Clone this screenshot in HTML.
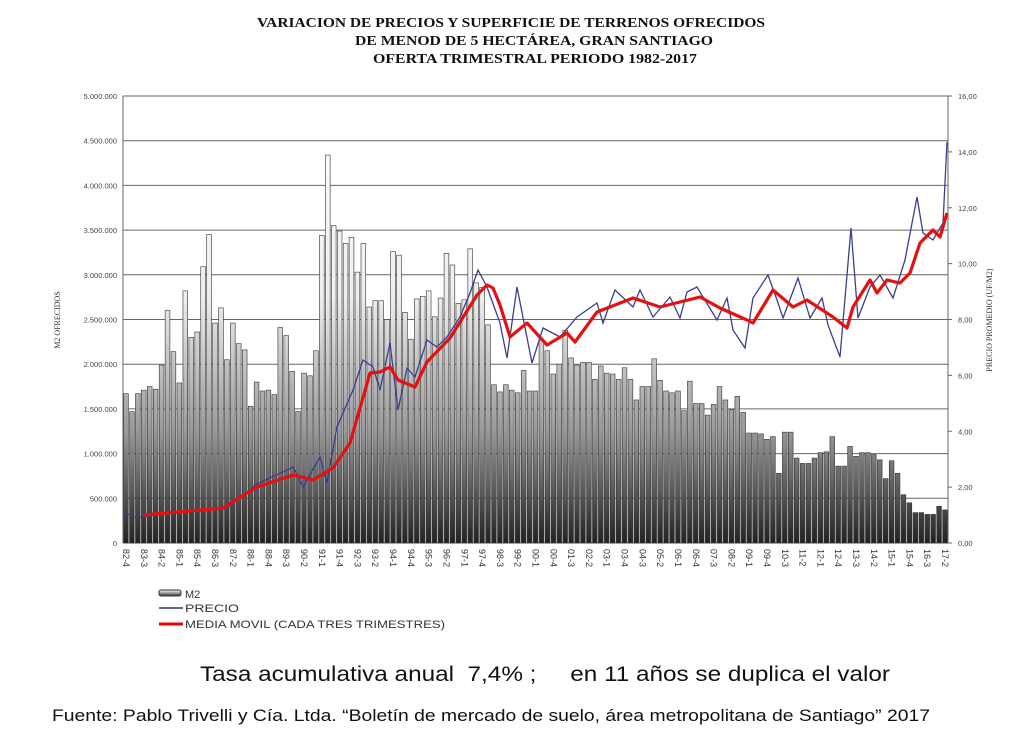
<!DOCTYPE html>
<html><head><meta charset="utf-8"><style>
body{margin:0;background:#fff;width:1024px;height:737px;overflow:hidden;font-family:"Liberation Sans",sans-serif}
</style></head><body>
<svg id="s" width="1024" height="737" xmlns="http://www.w3.org/2000/svg">
<defs>
<linearGradient id="g" gradientUnits="userSpaceOnUse" x1="0" y1="96" x2="0" y2="543">
<stop offset="0" stop-color="#fff"/><stop offset="0.45" stop-color="#eee"/><stop offset="0.75" stop-color="#999"/><stop offset="1" stop-color="#222"/>
</linearGradient>
<linearGradient id="lg" x1="0" y1="0" x2="0" y2="1"><stop offset="0" stop-color="#fff"/><stop offset="1" stop-color="#333"/></linearGradient>
</defs>
<g font-family="Liberation Serif,serif" font-weight="bold" font-size="13.5" fill="#111">
<text x="257" y="27" textLength="508" lengthAdjust="spacingAndGlyphs">VARIACION DE PRECIOS Y SUPERFICIE DE TERRENOS OFRECIDOS</text>
<text x="355" y="45" textLength="358" lengthAdjust="spacingAndGlyphs">DE MENOD DE 5 HECTÁREA, GRAN SANTIAGO</text>
<text x="373" y="63" textLength="324" lengthAdjust="spacingAndGlyphs">OFERTA TRIMESTRAL PERIODO 1982-2017</text>
</g>
<g id="grid"></g><g id="bars"></g><g id="lines"></g><g id="lab"></g>
<text x="0" y="0" transform="translate(60,320) rotate(-90)" font-family="Liberation Serif,serif" font-size="8" text-anchor="middle" fill="#333">M2 OFRECIDOS</text>
<text x="0" y="0" transform="translate(992,320) rotate(-90)" font-family="Liberation Serif,serif" font-size="8" text-anchor="middle" fill="#333">PRECIO PROMEDIO (UF/M2)</text>
<rect x="159" y="590" width="22" height="6" rx="2" fill="url(#lg)" stroke="#333"/>
<text x="185" y="598" font-size="11" fill="#333">M2</text>
<line x1="159" y1="608" x2="183" y2="608" stroke="#336" stroke-width="1.5"/>
<text x="185" y="612" font-size="11" fill="#333" textLength="54" lengthAdjust="spacingAndGlyphs">PRECIO</text>
<line x1="159" y1="624" x2="183" y2="624" stroke="#e00" stroke-width="3"/>
<text x="185" y="628" font-size="11" fill="#333" textLength="260" lengthAdjust="spacingAndGlyphs">MEDIA MOVIL (CADA TRES TRIMESTRES)</text>
<text x="200" y="681" font-size="21" fill="#111" xml:space="preserve" style="white-space:pre" textLength="690" lengthAdjust="spacingAndGlyphs">Tasa acumulativa anual  7,4% ;     en 11 años se duplica el valor</text>
<text x="52" y="721" font-size="17" fill="#111" textLength="878" lengthAdjust="spacingAndGlyphs">Fuente: Pablo Trivelli y Cía. Ltda. “Boletín de mercado de suelo, área metropolitana de Santiago” 2017</text>
</svg>
<script>
const NS="http://www.w3.org/2000/svg";
function el(p,t,a,txt){const e=document.createElementNS(NS,t);for(const k in a)e.setAttribute(k,a[k]);if(txt!==undefined)e.textContent=txt;document.getElementById(p).appendChild(e);return e;}
const X0=123,X1=948,Y0=543,Y1=96,H=Y0-Y1;
for(let i=0;i<=10;i++){const y=Y0-i*H/10;el('grid','line',{x1:X0,x2:X1,y1:y,y2:y,stroke:'#666','stroke-width':1});
el('lab','text',{x:117,y:y+3,'font-size':7.5,'text-anchor':'end',fill:'#444'},i==0?'0':(i*500000).toLocaleString('de-DE'));}
for(let i=0;i<=8;i++){const y=Y0-i*H/8;el('grid','line',{x1:X1,x2:X1+4,y1:y,y2:y,stroke:'#666'});
el('lab','text',{x:958,y:y+3,'font-size':7.5,fill:'#444'},(i*2).toFixed(2).replace('.',','));}
el('grid','line',{x1:X0,x2:X0,y1:Y1,y2:Y0,stroke:'#666'});el('grid','line',{x1:X1,x2:X1,y1:Y1,y2:Y0,stroke:'#666'});
const a=[1.67,1.47,1.67,1.71,1.75,1.72,1.99,2.60,2.14,1.79,2.82,2.30,2.36,3.09,3.45,2.46,2.63,2.05,2.46,2.23,2.16,1.53,1.80,1.70,1.71,1.66,2.41,2.32,1.92,1.47,1.90,1.87,2.15,3.44,4.34,3.55,3.49,3.35,3.42,3.03,3.35,2.64,2.71,2.71,2.50,3.26,3.22,2.58,2.28,2.73,2.76,2.82,2.53,2.74,3.24,3.11,2.68,2.72,3.29,2.91,2.86,2.44,1.77,1.69];
const b=[1.77,1.71,1.68,1.93,1.70,2.27,2.15,1.89,2.00,2.38,2.07,1.99,2.02,1.83,1.98,1.90,1.89,1.83,1.96,1.83,1.60,1.75,2.06,1.82,1.70,1.68,1.70,1.48,1.81,1.56,1.43,1.55,1.75,1.60,1.49,1.64,1.46,1.23,1.22,1.16,1.19,0.78,1.24,1.24,0.95,0.89,0.95,1.01,1.02,1.19,0.86,0.86,1.08,0.97,1.01,0.99,0.93,0.72,0.92,0.78,0.54,0.45,0.34,0.32,0.32,0.41,0.37];
const M=139-a.length,d=a.slice();
for(let i=0;i<M;i++){d.push(b[Math.min(b.length-1,Math.round(i*(b.length-1)/(M-1)))]);}
const N=d.length,w=(X1-X0)/N;
d.forEach((v,i)=>{const h=v/5*H;el('bars','rect',{x:X0+i*w+0.6,y:Y0-h,width:w-1.2,height:h,fill:'url(#g)',stroke:'#333','stroke-width':0.6});});
const blue=[[123,512],[137,518],[160,514],[200,510],[230,506],[257,484],[293,467],[303,487],[320,457],[327,483],[337,427],[353,390],[363,360],[373,367],[380,390],[390,343],[398,410],[407,368],[415,377],[427,340],[437,347],[447,337],[460,317],[470,293],[478,270],[487,287],[500,323],[507,358],[517,287],[532,363],[543,328],[560,337],[577,317],[597,303],[603,323],[615,290],[633,307],[640,290],[653,317],[670,297],[680,318],[687,292],[697,287],[717,320],[727,298],[733,330],[745,348],[753,298],[768,275],[777,300],[783,318],[798,278],[810,318],[822,298],[828,325],[840,357],[851,228],[858,318],[870,287],[880,275],[893,298],[905,260],[917,197],[923,233],[933,240],[943,223],[947,142]];
const red=[[143,515],[223,508],[257,487],[293,475],[313,480],[333,468],[350,443],[370,373],[380,372],[390,367],[398,380],[415,387],[427,362],[450,338],[477,295],[487,285],[493,288],[500,305],[510,337],[527,323],[547,345],[567,333],[575,342],[597,312],[633,298],[660,307],[700,297],[720,308],[747,320],[753,323],[773,290],[793,307],[807,300],[833,317],[847,328],[853,307],[870,280],[877,293],[887,280],[900,283],[910,273],[920,243],[933,230],[940,237],[947,213]];
el('lines','polyline',{points:blue.join(' '),fill:'none',stroke:'#3a3f8f','stroke-width':1.3});
el('lines','polyline',{points:red.join(' '),fill:'none',stroke:'#e51010','stroke-width':3.2,'stroke-linejoin':'round'});
let q=4,yr=82;
for(let i=0;i<N;i+=3){const x=X0+(i+0.5)*w;
el('lab','text',{x:0,y:0,transform:`translate(${x-3},549) rotate(90)`,'font-size':9,fill:'#333'},String(yr).padStart(2,'0')+'-'+q);
q+=3;while(q>4){q-=4;yr=(yr+1)%100;}}
</script>
</body></html>
